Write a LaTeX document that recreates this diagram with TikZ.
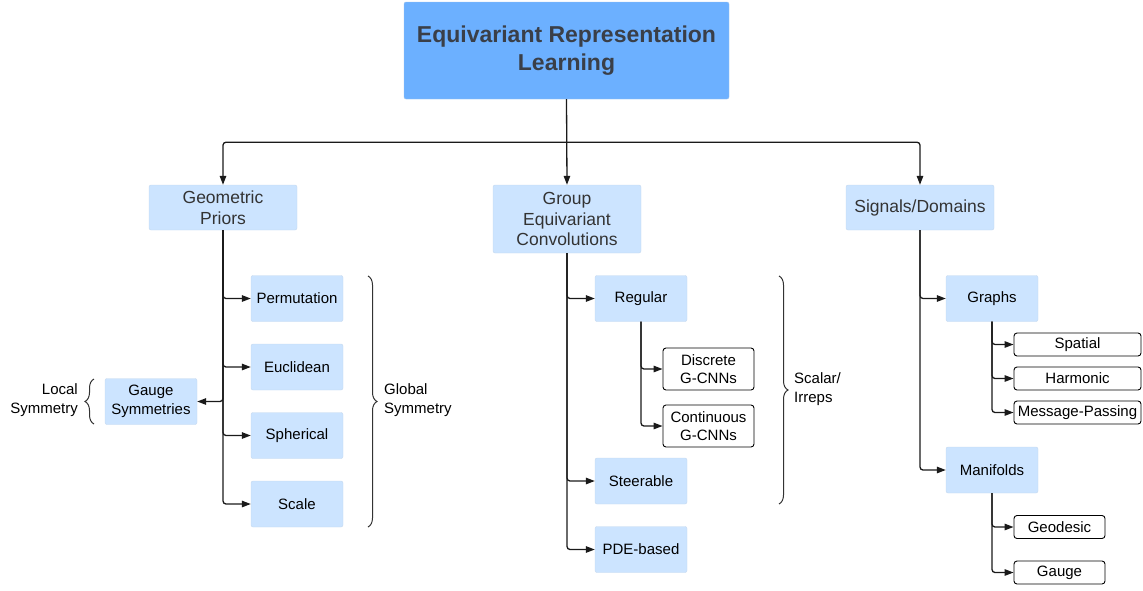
\documentclass[tikz,border=0pt]{standalone}
\usepackage{fontspec}
\setmainfont{Liberation Sans}
\usetikzlibrary{arrows.meta,decorations.pathreplacing}
\definecolor{topblue}{HTML}{6CB0FF}
\definecolor{topborder}{HTML}{9CC3EE}
\definecolor{lightblue}{HTML}{CCE4FF}
\definecolor{lightborder}{HTML}{C4D8EE}
\definecolor{titletext}{HTML}{3A3F48}
\definecolor{lvltext}{HTML}{333333}
\definecolor{linecol}{HTML}{1A1A1A}
\begin{document}
\begin{tikzpicture}[x=1pt,y=-1pt,
  topbox/.style={draw=topborder, fill=topblue, rounded corners=2pt, inner sep=0pt, align=center,
    font=\bfseries\fontsize{23}{28}\selectfont, text=titletext, minimum width=325pt, minimum height=97pt},
  lone/.style={draw=lightborder, fill=lightblue, rounded corners=2pt, inner sep=0pt, align=center,
    font=\fontsize{17.5}{20.5}\selectfont, text=lvltext, minimum width=148pt},
  ltwo/.style={draw=lightborder, fill=lightblue, rounded corners=2pt, inner sep=0pt, align=center,
    font=\fontsize{15}{18.5}\selectfont, text=black, minimum width=92pt, minimum height=46pt},
  leaf/.style={draw=black, fill=white, line width=0.9pt, rounded corners=3pt, inner sep=0pt, align=center,
    font=\fontsize{15}{18.5}\selectfont, text=black},
  arr/.style={draw=linecol, line width=1.3pt, rounded corners=3pt, -{Triangle[length=9pt,width=6.5pt]}},
  brc/.style={draw=lvltext, line width=1pt, decorate, decoration={brace, amplitude=9pt}},
  lbl/.style={inner sep=0pt, font=\fontsize{15}{18.5}\selectfont, text=black}
]
\useasboundingbox (0,0) rectangle (1143,590);

% top
\node[topbox] (top) at (566.5,50.5) {Equivariant Representation\\Learning};

% level 1
\node[lone, minimum height=45pt] (gp) at (223,207.5) {Geometric\\Priors};
\node[lone, minimum height=68pt] (gec) at (567,219) {Group\\Equivariant\\Convolutions};
\node[lone, minimum height=45pt] (sd) at (920,207.5) {Signals/Domains};

% left branch
\node[ltwo] (perm) at (297,298.5) {Permutation};
\node[ltwo] (eucl) at (297,367) {Euclidean};
\node[ltwo] (sph) at (297,435.5) {Spherical};
\node[ltwo] (scale) at (297,504) {Scale};
\node[ltwo] (gauge) at (151,401.5) {Gauge\\Symmetries};

% middle branch
\node[ltwo] (reg) at (641,298.5) {Regular};
\node[ltwo] (steer) at (641,481) {Steerable};
\node[ltwo] (pde) at (641,549.5) {PDE-based};
\node[leaf, minimum width=91pt, minimum height=42pt] (disc) at (708.5,369) {Discrete\\G-CNNs};
\node[leaf, minimum width=91pt, minimum height=42pt] (cont) at (708.5,426) {Continuous\\G-CNNs};

% right branch
\node[ltwo] (graphs) at (992,298.5) {Graphs};
\node[ltwo] (manif) at (992,470) {Manifolds};
\node[leaf, minimum width=127pt, minimum height=23pt] (spat) at (1077.5,344.5) {Spatial};
\node[leaf, minimum width=127pt, minimum height=23pt] (harm) at (1077.5,378.5) {Harmonic};
\node[leaf, minimum width=127pt, minimum height=23pt] (mp) at (1077.5,412.5) {Message-Passing};
\node[leaf, minimum width=91pt, minimum height=23pt] (geod) at (1059.5,527) {Geodesic};
\node[leaf, minimum width=91pt, minimum height=23pt] (gaugeL) at (1059.5,572.5) {Gauge};

% top connectors
\path (top.south) -- ++(0,43) coordinate (j);
\draw[arr] (top.south) -- (gec.north);
\draw[arr] (j) -| (gp.north);
\draw[arr] (j) -| (sd.north);

% left connectors
\draw[arr] (gp.south) |- (perm.west);
\draw[arr] (gp.south) |- (eucl.west);
\draw[arr] (gp.south) |- (sph.west);
\draw[arr] (gp.south) |- (scale.west);
\draw[arr] (gp.south) |- (gauge.east);

% middle connectors
\draw[arr] (gec.south) |- (reg.west);
\draw[arr] (gec.south) |- (steer.west);
\draw[arr] (gec.south) |- (pde.west);
\draw[arr] (reg.south) |- (disc.west);
\draw[arr] (reg.south) |- (cont.west);

% right connectors
\draw[arr] (sd.south) |- (graphs.west);
\draw[arr] (sd.south) |- (manif.west);
\draw[arr] (graphs.south) |- (spat.west);
\draw[arr] (graphs.south) |- (harm.west);
\draw[arr] (graphs.south) |- (mp.west);
\draw[arr] (manif.south) |- (geod.west);
\draw[arr] (manif.south) |- (gaugeL.west);

% braces
\coordinate (gtop) at (368,276);
\coordinate (gbot) at (368,527);
\draw[brc] (gtop) -- (gbot);
\node[lbl, anchor=west, align=left] (glob) at (384,400) {Global\\Symmetry};

\coordinate (ltop) at (94,379);
\coordinate (lbot) at (94,424);
\draw[brc] (lbot) -- (ltop);
\node[lbl, anchor=east, align=right] (loc) at (78,400) {Local\\Symmetry};

\coordinate (stop) at (779,276);
\coordinate (sbot) at (779,504);
\draw[brc] (stop) -- (sbot);
\node[lbl, anchor=west, align=left] (scal) at (794,389) {Scalar/\\Irreps};
\end{tikzpicture}
\end{document}
